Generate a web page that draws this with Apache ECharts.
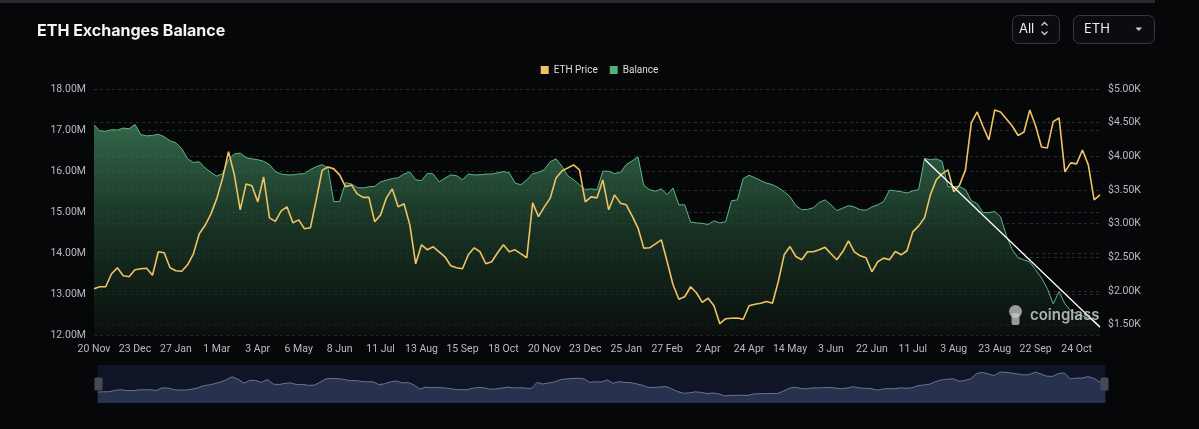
<!DOCTYPE html>
<html><head><meta charset="utf-8">
<script src="https://cdn.jsdelivr.net/npm/echarts@6/dist/echarts.min.js"></script>
<style>html,body{margin:0;padding:0;background:#060709;}#c{width:1199px;height:429px;}</style>
</head><body><div id="c"></div>
<script>
// ---- data ----
const tickDates = ['2023-11-20','2023-12-23','2024-01-27','2024-03-01','2024-04-03','2024-05-06','2024-06-08','2024-07-11','2024-08-13','2024-09-15','2024-10-18','2024-11-20','2024-12-23','2025-01-25','2025-02-27','2025-04-02','2025-04-24','2025-05-14','2025-06-03','2025-06-22','2025-07-11','2025-08-03','2025-08-23','2025-09-22','2025-10-24'];
const endDate = '2025-11-10';
const labelStep = 7;
const legendNames = ['ETH Price', 'Balance'];
// exchange balance, millions of ETH
const balanceM = [
17.13,16.98,16.97,17.01,17.00,17.05,17.03,17.14,16.89,16.86,
16.87,16.90,16.84,16.74,16.69,16.55,16.30,16.21,16.23,16.08,
15.97,15.88,15.94,16.28,16.42,16.44,16.33,16.30,16.28,16.24,
16.16,15.99,15.93,15.91,15.91,15.93,15.94,16.04,16.11,16.16,
16.08,15.26,15.26,15.72,15.69,15.60,15.59,15.62,15.63,15.74,
15.78,15.82,15.84,15.93,15.98,15.79,15.77,15.95,15.93,15.74,
15.83,15.91,15.89,15.79,15.93,15.91,15.91,15.93,15.93,15.96,
15.99,15.96,15.71,15.67,15.79,15.94,15.97,16.04,16.23,16.30,
16.12,15.89,15.79,15.67,15.55,15.57,15.55,16.00,16.00,15.94,
15.97,16.16,16.25,16.35,15.65,15.55,15.51,15.57,15.43,15.59,
15.18,15.18,14.76,14.74,14.73,14.70,14.79,14.74,14.77,15.28,
15.30,15.82,15.90,15.84,15.77,15.71,15.67,15.60,15.50,15.38,
15.16,15.06,15.07,15.11,15.24,15.30,15.18,15.04,15.10,15.16,
15.13,15.06,15.05,15.13,15.18,15.26,15.54,15.52,15.50,15.47,
15.52,15.55,16.31,16.28,16.30,16.24,15.62,15.62,15.62,15.55,
15.28,15.21,14.99,14.99,15.02,14.89,14.43,14.09,13.89,13.84,
13.79,13.60,13.40,13.14,12.77,13.07,12.77,12.60,12.53,12.48,
12.42,12.36,12.22
];
// ETH price, USD
const ethPrice = [
2034,2064,2064,2257,2345,2227,2212,2316,2331,2338,
2234,2583,2568,2345,2301,2294,2390,2553,2850,2976,
3146,3376,3680,4070,3725,3206,3591,3562,3324,3695,
3087,3035,3191,3250,3013,3057,2924,2939,3354,3791,
3843,3814,3725,3547,3576,3443,3391,3391,3028,3131,
3384,3517,3250,3295,2983,2405,2687,2612,2657,2583,
2509,2375,2345,2331,2538,2642,2583,2405,2435,2568,
2687,2583,2612,2553,2494,3309,3106,3250,3379,3680,
3784,3828,3873,3799,3324,3398,3384,3650,3206,3428,
3305,3280,3117,2939,2637,2642,2701,2761,2435,2093,
1878,1915,2064,1975,1832,1893,1782,1515,1589,1597,
1600,1582,1782,1804,1820,1845,1819,2142,2538,2661,
2513,2464,2583,2583,2612,2649,2553,2464,2583,2746,
2583,2523,2494,2286,2435,2489,2464,2587,2538,2598,
2879,2968,3087,3428,3650,3740,3799,3473,3576,3799,
4496,4659,4444,4244,4689,4659,4555,4451,4310,4362,
4689,4451,4140,4125,4515,4570,3769,3903,3888,4095,
3873,3354,3428
];
// white trend line endpoints [category index, balance (M)]
const trendLine = [[142, 16.29], [172, 12.20]];

// ---- categories (dates) from tick anchors ----
const anchors = tickDates.map((d, j) => [j * labelStep, d]);
anchors.push([balanceM.length - 1, endDate]);
const categories = [];
for (let a = 0; a < anchors.length - 1; a++) {
  const [i0, d0] = anchors[a], [i1, d1] = anchors[a + 1];
  const t0 = Date.parse(d0 + 'T00:00:00Z'), t1 = Date.parse(d1 + 'T00:00:00Z');
  for (let k = i0; k < i1; k++) {
    const days = Math.round((k - i0) * (t1 - t0) / (i1 - i0) / 86400000);
    categories.push(new Date(t0 + days * 86400000).toISOString().slice(0, 10));
  }
}
categories.push(endDate);
const MON = ['Jan','Feb','Mar','Apr','May','Jun','Jul','Aug','Sep','Oct','Nov','Dec'];
function fmtDate(s) { const p = s.split('-'); return (+p[2]) + ' ' + MON[+p[1] - 1]; }

const FONT = 'Roboto, "Noto Sans", sans-serif';
const labelColor = '#b9bbc1';
const gridLine = { lineStyle: { color: '#2c2d32', type: [3, 3], width: 1 } };
const chart = echarts.init(document.getElementById('c'), null, { renderer: 'canvas' });
const slideBg = { lineStyle: { color: '#7f89a6', width: 0.8, opacity: 1 }, areaStyle: { color: '#28324f', opacity: 1 } };
chart.setOption({
  backgroundColor: '#060709',
  animation: false,
  textStyle: { fontFamily: FONT },
  legend: {
    data: legendNames, top: 60, left: 'center', icon: 'rect', itemWidth: 8, itemHeight: 8, itemGap: 12, itemTextGap: 4,
    textStyle: { color: '#dcdcdc', fontSize: 10, fontFamily: FONT }
  },
  grid: { left: 94, right: 99, top: 89, bottom: 93.5 },
  xAxis: {
    type: 'category', data: categories, boundaryGap: false,
    axisLine: { show: false }, axisTick: { show: false }, splitLine: { show: false },
    axisLabel: { interval: labelStep - 1, color: labelColor, fontSize: 10.5, formatter: fmtDate }
  },
  yAxis: [
    { type: 'value', position: 'left', min: 12, max: 18, interval: 1,
      axisLine: { show: false }, axisTick: { show: false }, splitLine: gridLine,
      axisLabel: { color: labelColor, fontSize: 10.5, formatter: v => v.toFixed(2) + 'M' } },
    { type: 'value', position: 'right', min: 1340, max: 5000, splitNumber: 7,
      axisLine: { show: false }, axisTick: { show: false }, splitLine: gridLine,
      axisLabel: { color: labelColor, fontSize: 10.5, formatter: v => (v % 500 === 0 ? '$' + (v / 1000).toFixed(2) + 'K' : '') } }
  ],
  dataZoom: [{
    type: 'slider', xAxisIndex: 0, start: 0, end: 100,
    left: 95, right: 96, top: 365, height: 38,
    backgroundColor: '#0f1527', borderColor: 'transparent', fillerColor: 'rgba(0,0,0,0)',
    showDetail: false, brushSelect: false, moveHandleSize: 0,
    handleIcon: 'path://M2,0h6a2,2,0,0,1,2,2v12a2,2,0,0,1,-2,2h-6a2,2,0,0,1,-2,-2v-12a2,2,0,0,1,2,-2Z',
    handleSize: 13, handleStyle: { color: '#454a55', borderColor: '#454a55', borderWidth: 0 },
    emphasis: { handleStyle: { color: '#454a55', borderColor: '#454a55' } },
    dataBackground: slideBg, selectedDataBackground: slideBg
  }],
  series: [
    { name: 'ETH Price', type: 'line', yAxisIndex: 1, data: ethPrice, symbol: 'none', showSymbol: false,
      lineStyle: { color: '#efc264', width: 1.6 }, itemStyle: { color: '#efc264' }, z: 4 },
    { name: 'Balance', type: 'line', yAxisIndex: 0, data: balanceM, symbol: 'none', showSymbol: false,
      lineStyle: { color: '#5fb487', width: 1 }, itemStyle: { color: '#52b07e' }, z: 2,
      areaStyle: { color: new echarts.graphic.LinearGradient(0, 0, 0, 1, [
        { offset: 0, color: 'rgba(72,150,104,0.95)' },
        { offset: 0.5, color: 'rgba(32,70,48,0.95)' },
        { offset: 1, color: 'rgba(12,20,15,0.9)' }]) },
      markLine: { silent: true, symbol: ['none', 'none'], label: { show: false }, z: 6,
        lineStyle: { color: '#ffffff', width: 1.3, type: 'solid' }, emphasis: { disabled: true },
        data: [[{ coord: trendLine[0] }, { coord: trendLine[1] }]] } }
  ],
  graphic: [
    { type: 'rect', shape: { x: 0, y: 0, width: 1155, height: 3 }, style: { fill: '#2a2b30' } },
    { type: 'text', x: 37, y: 31, style: { text: 'ETH Exchanges Balance', fill: '#f4f4f5', font: 'bold 16px Inter, "Noto Sans", sans-serif', verticalAlign: 'middle' } },
    { type: 'rect', shape: { x: 1012.5, y: 15.5, width: 47, height: 28, r: 6 }, style: { fill: '#0b0c0f', stroke: '#37383e', lineWidth: 1 } },
    { type: 'text', x: 1019, y: 29.5, style: { text: 'All', fill: '#ececec', font: '13px Inter, sans-serif', verticalAlign: 'middle' } },
    { type: 'polyline', shape: { points: [[1041.5, 25.5], [1044.5, 22.5], [1047.5, 25.5]] }, style: { stroke: '#d0d0d0', lineWidth: 1.3, fill: null } },
    { type: 'polyline', shape: { points: [[1041.5, 31.5], [1044.5, 34.5], [1047.5, 31.5]] }, style: { stroke: '#d0d0d0', lineWidth: 1.3, fill: null } },
    { type: 'rect', shape: { x: 1073.5, y: 15.5, width: 81, height: 28, r: 6 }, style: { fill: '#0b0c0f', stroke: '#37383e', lineWidth: 1 } },
    { type: 'text', x: 1084, y: 29.5, style: { text: 'ETH', fill: '#ececec', font: '13px Inter, sans-serif', verticalAlign: 'middle' } },
    { type: 'polygon', shape: { points: [[1135.5, 27.5], [1142, 27.5], [1138.75, 31]] }, style: { fill: '#d0d0d0' } },
    { type: 'circle', z: 20, shape: { cx: 1015.5, cy: 311.5, r: 6.5 }, style: { fill: 'rgba(200,200,200,0.75)' } },
    { type: 'rect', z: 20, shape: { x: 1011.5, y: 313, width: 8, height: 12, r: 2 }, style: { fill: 'rgba(200,200,200,0.75)' } },
    { type: 'text', z: 20, x: 1030, y: 315.5, style: { text: 'coinglass', fill: 'rgba(205,205,205,0.85)', font: '600 15px Inter, sans-serif', verticalAlign: 'middle' } }
  ]
});
</script></body></html>
